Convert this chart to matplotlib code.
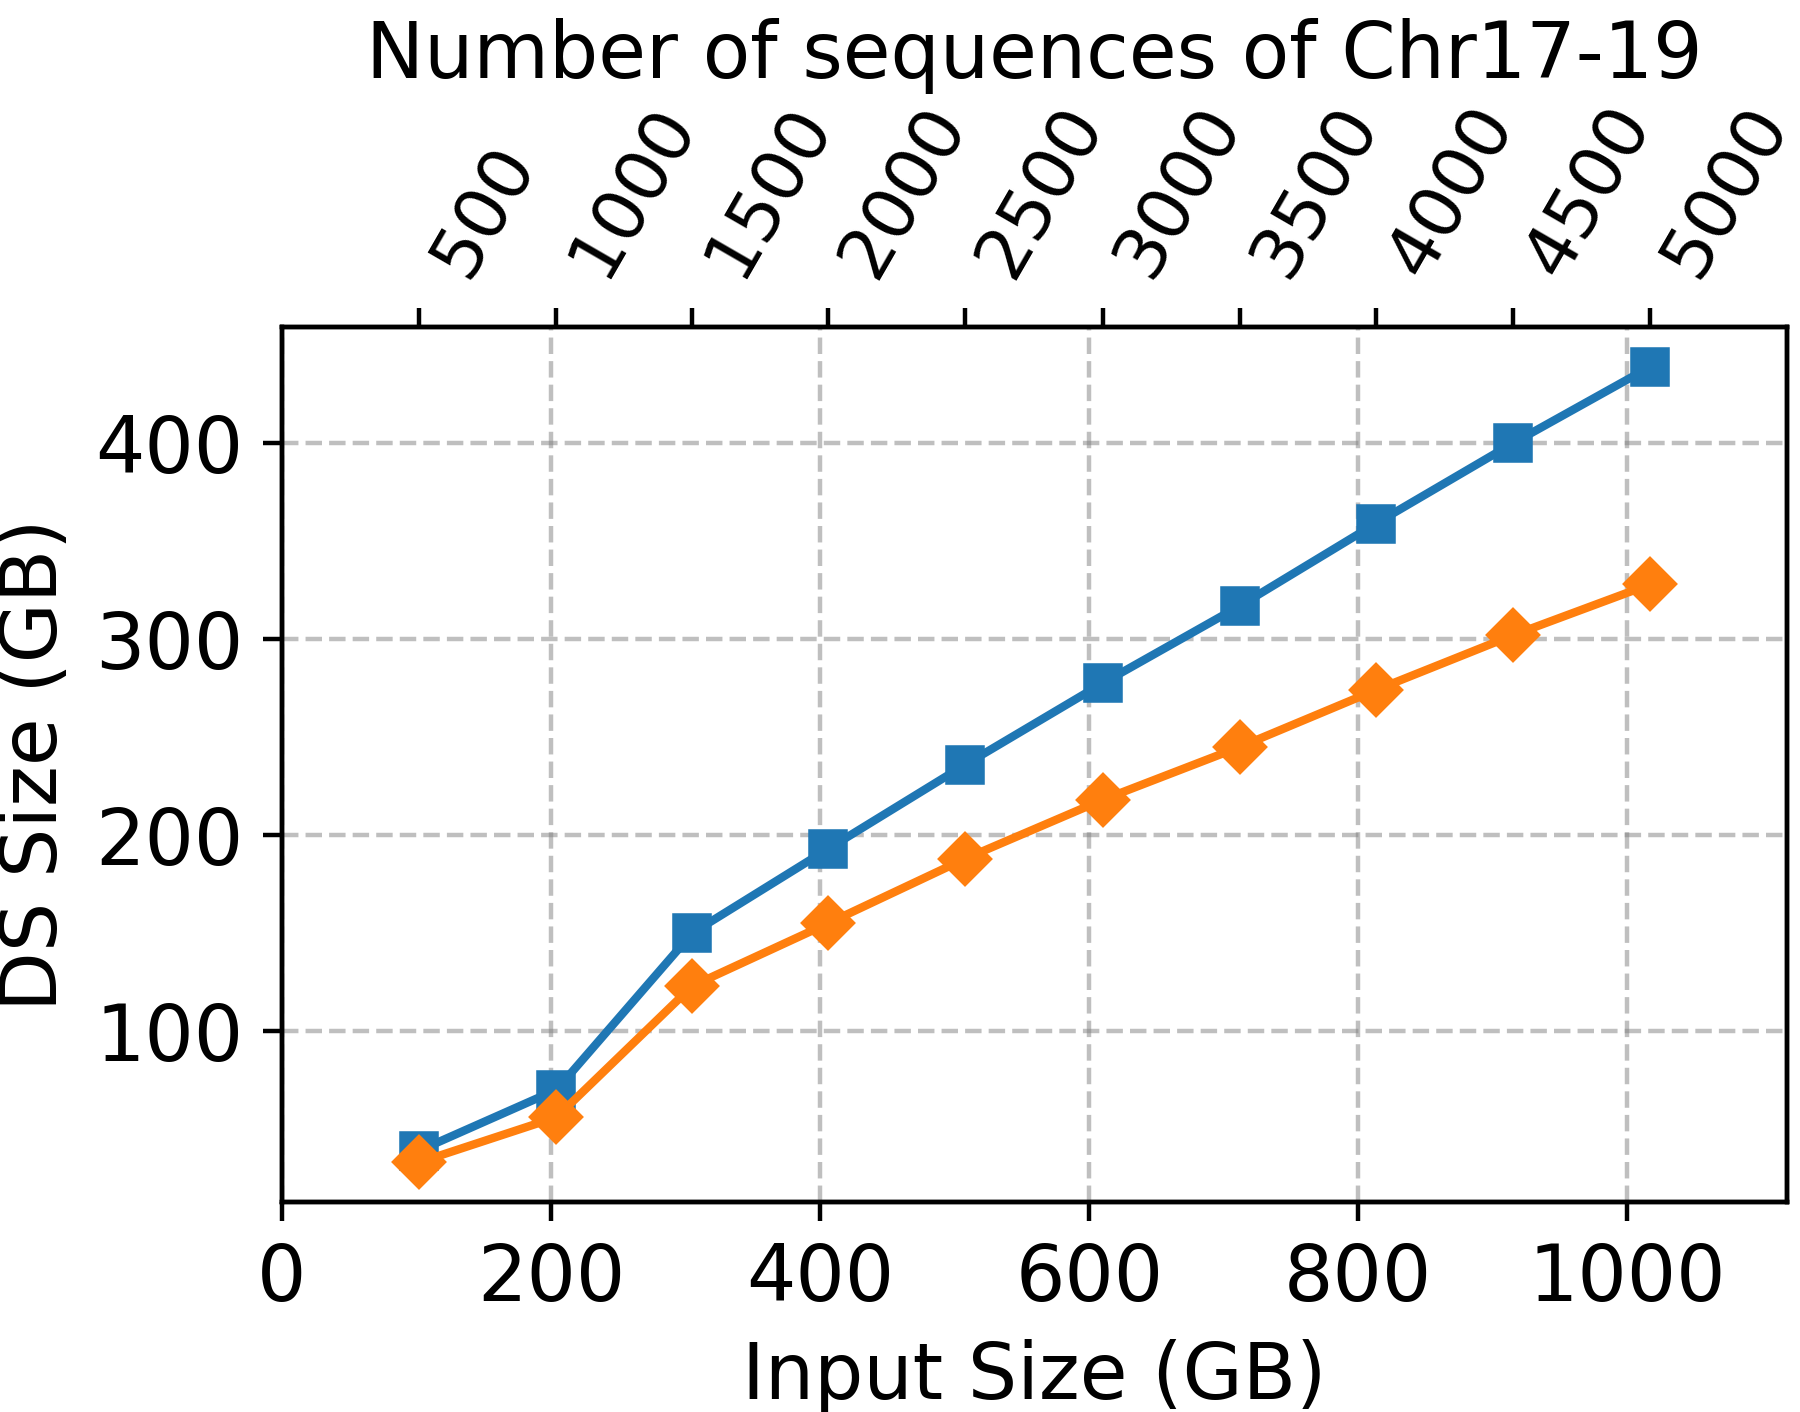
import matplotlib.pyplot as plt
import numpy as np

input_gb = [102, 204, 305, 406, 508, 610, 712, 813, 915, 1017]
num_seqs = [500, 1000, 1500, 2000, 2500, 3000, 3500, 4000, 4500, 5000]
ds_blue = [39, 70, 150, 193, 236, 277.5, 317, 359, 400, 439]
ds_orange = [33, 56, 123, 155, 188, 218, 245, 274, 302, 328]

plt.rcParams['font.size'] = 14

fig = plt.figure(figsize=(4.5, 3.53), dpi=400)
ax = fig.add_axes([0.1567, 0.1487, 0.8361, 0.6197])

ax.plot(input_gb, ds_blue, marker='s', color='#1f77b4')
ax.plot(input_gb, ds_orange, marker='D', color='#ff7f0e')

ax.set_xlim(0, max(input_gb) * 1.1)
ax.set_xlabel('Input Size (GB)')
ax.set_ylabel('DS Size (GB)')
ax.set_yticks([100, 200, 300, 400])
ax.grid(True, linestyle='--', color='gray', alpha=0.5)

# secondary axis on top with number of sequences
ax2 = ax.twiny()
ax2.set_xlim(ax.get_xlim())
ax2.set_xticks(input_gb)
ax2.set_xticklabels([str(n) for n in num_seqs], rotation=60, ha='left', fontsize=13)
ax2.set_xlabel('Number of sequences of Chr17-19', labelpad=3)

fig.savefig('out.png', dpi=400)
